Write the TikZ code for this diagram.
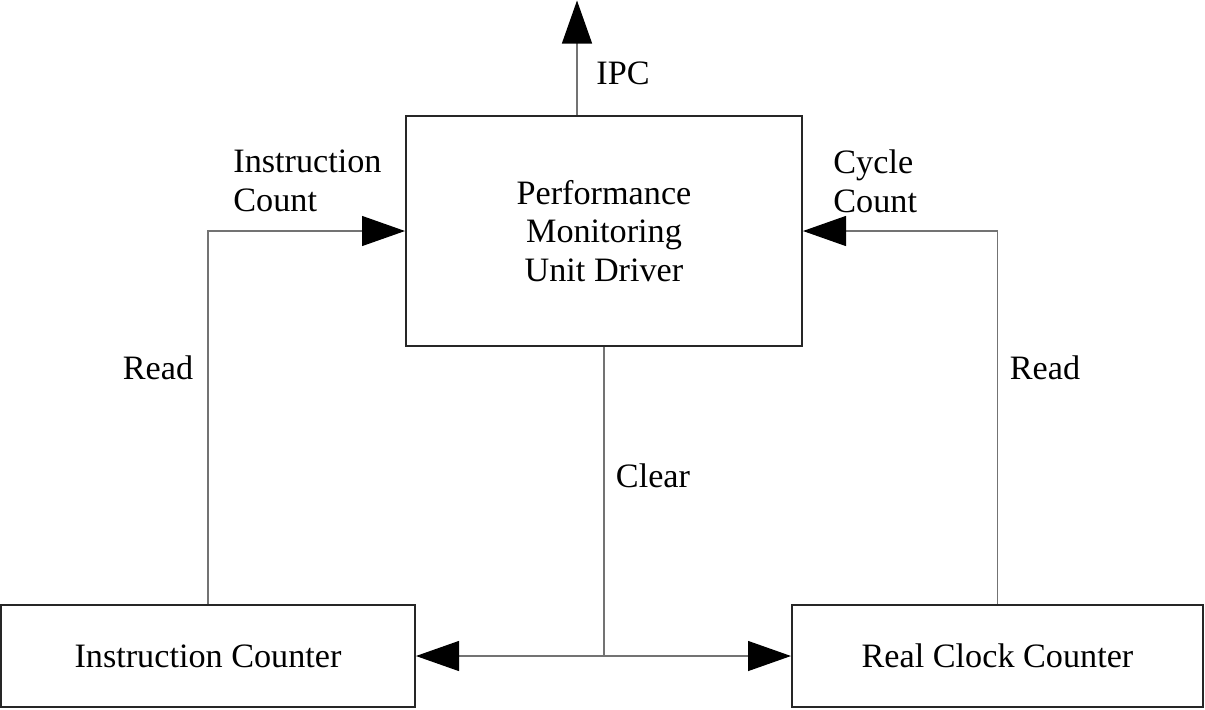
\documentclass[tikz,border=0pt]{standalone}
\usepackage{fontspec}
\setmainfont{Liberation Serif}
\usetikzlibrary{arrows.meta}
\begin{document}
\begin{tikzpicture}[x=0.5pt,y=-0.5pt,
  every node/.style={font=\fontsize{17.1}{19.3}\selectfont, inner sep=0pt},
  box/.style={draw=black!85, line width=1pt, inner sep=0pt},
  wire/.style={draw=black!55, line width=0.6pt},
  arr/.style={wire, -{Triangle[length=21.5pt,width=15pt,color=black]}}
]
\useasboundingbox (0,0) rectangle (1205,709);
\node[box, minimum width=396*0.5pt, minimum height=230*0.5pt, align=center] (pmu) at (604,231) {Performance\\Monitoring\\Unit Driver};
\node[box, minimum width=414*0.5pt, minimum height=102*0.5pt] (ic) at (208,656) {Instruction Counter};
\node[box, minimum width=411*0.5pt, minimum height=102*0.5pt] (rc) at (997.5,656) {Real Clock Counter};
\coordinate (ipc) at (577,0.5);
\coordinate (j) at (pmu.south |- ic.east);
\draw[arr] (pmu.north -| ipc) -- (ipc);
\draw[arr] (ic.north) |- (pmu.west);
\draw[arr] (rc.north) |- (pmu.east);
\draw[wire] (pmu.south) -- (j);
\draw[arr] (j) -- (ic.east);
\draw[arr] (j) -- (rc.west);
\node (lipc) at (623,73) {IPC};
\node[align=left, anchor=west] (lic) at (233,181) {Instruction\\Count};
\node[align=left, anchor=west] (lcc) at (833,181) {Cycle\\Count};
\node (lr1) at (158,368) {Read};
\node (lr2) at (1045,368) {Read};
\node (lcl) at (653,476) {Clear};
\end{tikzpicture}
\end{document}
